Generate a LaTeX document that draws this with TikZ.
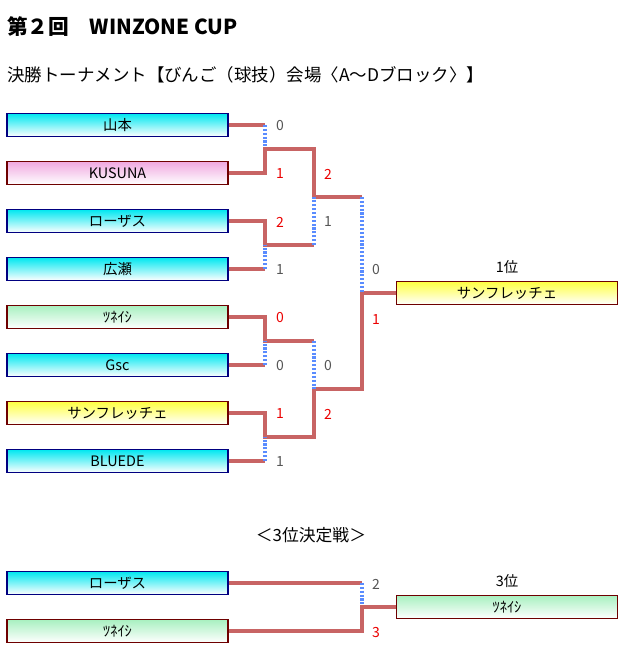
\documentclass[tikz,border=0pt]{standalone}
\usepackage{fontspec}
\setmainfont{Noto Sans CJK JP}
\usetikzlibrary{positioning}

\definecolor{wincol}{RGB}{200,100,100}
\definecolor{losecol}{RGB}{90,140,255}
\definecolor{navyline}{RGB}{0,0,128}
\definecolor{darkline}{RGB}{110,0,0}
\definecolor{cyantop}{RGB}{0,232,240}
\definecolor{pinktop}{RGB}{240,168,224}
\definecolor{greentop}{RGB}{168,240,192}
\definecolor{yellowtop}{RGB}{255,255,64}
\definecolor{redscore}{RGB}{235,0,0}
\definecolor{grayscore}{RGB}{85,85,85}

\tikzset{
  team/.style={draw, line width=1pt, minimum width=165.75pt, minimum height=17.25pt,
    inner sep=0pt, font=\fontsize{10.8}{12}\selectfont, shading=axis, bottom color=white},
  cyanbox/.style={team, draw=navyline, top color=cyantop, bottom color=white},
  pinkbox/.style={team, draw=darkline, top color=pinktop, bottom color=white},
  greenbox/.style={team, draw=darkline, top color=greentop, bottom color=white},
  yellowbox/.style={team, draw=darkline, top color=yellowtop, bottom color=white},
  win/.style={draw=wincol, line width=2.4pt},
  lose/.style={draw=losecol, line width=2.3pt, dash pattern=on 1.6pt off 1.3pt},
  score/.style={font=\fontsize{10.5}{12}\selectfont, text=grayscore, inner sep=0pt},
  wscore/.style={score, text=redscore}
}

\begin{document}
\begin{tikzpicture}[x=0.75pt, y=-0.75pt]
  \useasboundingbox (0,0) rectangle (636,653);

  % Titles
  \node[anchor=west, inner sep=0pt, font=\fontsize{15.5}{18}\selectfont\bfseries] (title) at (7,27) {第２回　WINZONE CUP};
  \node[anchor=west, inner sep=0pt, font=\fontsize{13.1}{15}\selectfont] (subtitle) at (7,75) {決勝トーナメント【びんご（球技）会場〈A～Dブロック〉】};

  % Teams
  \foreach \i/\name/\sty in {1/山本/cyanbox, 2/KUSUNA/pinkbox, 3/ローザス/cyanbox, 4/広瀬/cyanbox,
      5/ﾂﾈｲｼ/greenbox, 6/Gsc/cyanbox, 7/サンフレッチェ/yellowbox, 8/BLUEDE/cyanbox}
    \node[\sty] (t\i) at (117.5, 77+48*\i) {\name};

  % Champion
  \node[yellowbox] (champ) at (507,293) {サンフレッチェ};
  \node[inner sep=0pt, font=\fontsize{10.8}{12}\selectfont, above=5pt of champ] (first) {1位};

  % Junctions
  \coordinate (m1) at (265,149);
  \coordinate (m2) at (265,245);
  \coordinate (m3) at (265,341);
  \coordinate (m4) at (265,437);
  \coordinate (s1) at (314,197);
  \coordinate (s2) at (314,389);
  \coordinate (f) at (362,293);

  % Round 1
  \draw[win] (t1.east) -- (t1.east -| m1);
  \draw[lose] (t1.east -| m1) -- (m1);
  \draw[win] (t2.east) -| (m1) -| (s1) -- (s1 -| f);
  \draw[win] (t3.east) -| (m2) -- (m2 -| s1);
  \draw[win] (t4.east) -- (t4.east -| m2);
  \draw[lose] (t4.east -| m2) -- (m2);
  \draw[win] (t5.east) -| (m3) -- (m3 -| s2);
  \draw[win] (t6.east) -- (t6.east -| m3);
  \draw[lose] (t6.east -| m3) -- (m3);
  \draw[win] (t7.east) -| (m4) -| (s2) -| (f) -- (champ.west);
  \draw[win] (t8.east) -- (t8.east -| m4);
  \draw[lose] (t8.east -| m4) -- (m4);

  % Round 2 and semi final
  \draw[lose] (m2 -| s1) -- (s1);
  \draw[lose] (m3 -| s2) -- (s2);
  \draw[lose] (s1 -| f) -- (f);

  % Scores
  \foreach \k/\x/\y/\s/\sty in {1/280/126/0/score, 2/280/174/1/wscore, 3/280/222/2/wscore, 4/280/270/1/score,
      5/280/318/0/wscore, 6/280/366/0/score, 7/280/414/1/wscore, 8/280/462/1/score,
      9/328/174/2/wscore, 10/328/222/1/score, 11/328/366/0/score, 12/328/414/2/wscore,
      13/376/270/0/score, 14/376/320/1/wscore, 15/376/584/2/score, 16/376/632/3/wscore}
    \node[\sty] (sc\k) at (\x,\y) {\s};

  % Third place
  \node[font=\fontsize{12.6}{14}\selectfont, inner sep=0pt] (thirdtitle) at (311,535) {＜3位決定戦＞};
  \node[cyanbox] (b1) at (117.5,583) {ローザス};
  \node[greenbox] (b2) at (117.5,631) {ﾂﾈｲｼ};
  \node[greenbox] (third) at (507,607) {ﾂﾈｲｼ};
  \node[inner sep=0pt, font=\fontsize{10.8}{12}\selectfont, above=5pt of third] (thirdlabel) {3位};
  \coordinate (tp) at (362,607);
  \draw[win] (b1.east) -- (b1.east -| tp);
  \draw[lose] (b1.east -| tp) -- (tp);
  \draw[win] (b2.east) -| (tp) -- (third.west);
\end{tikzpicture}
\end{document}
